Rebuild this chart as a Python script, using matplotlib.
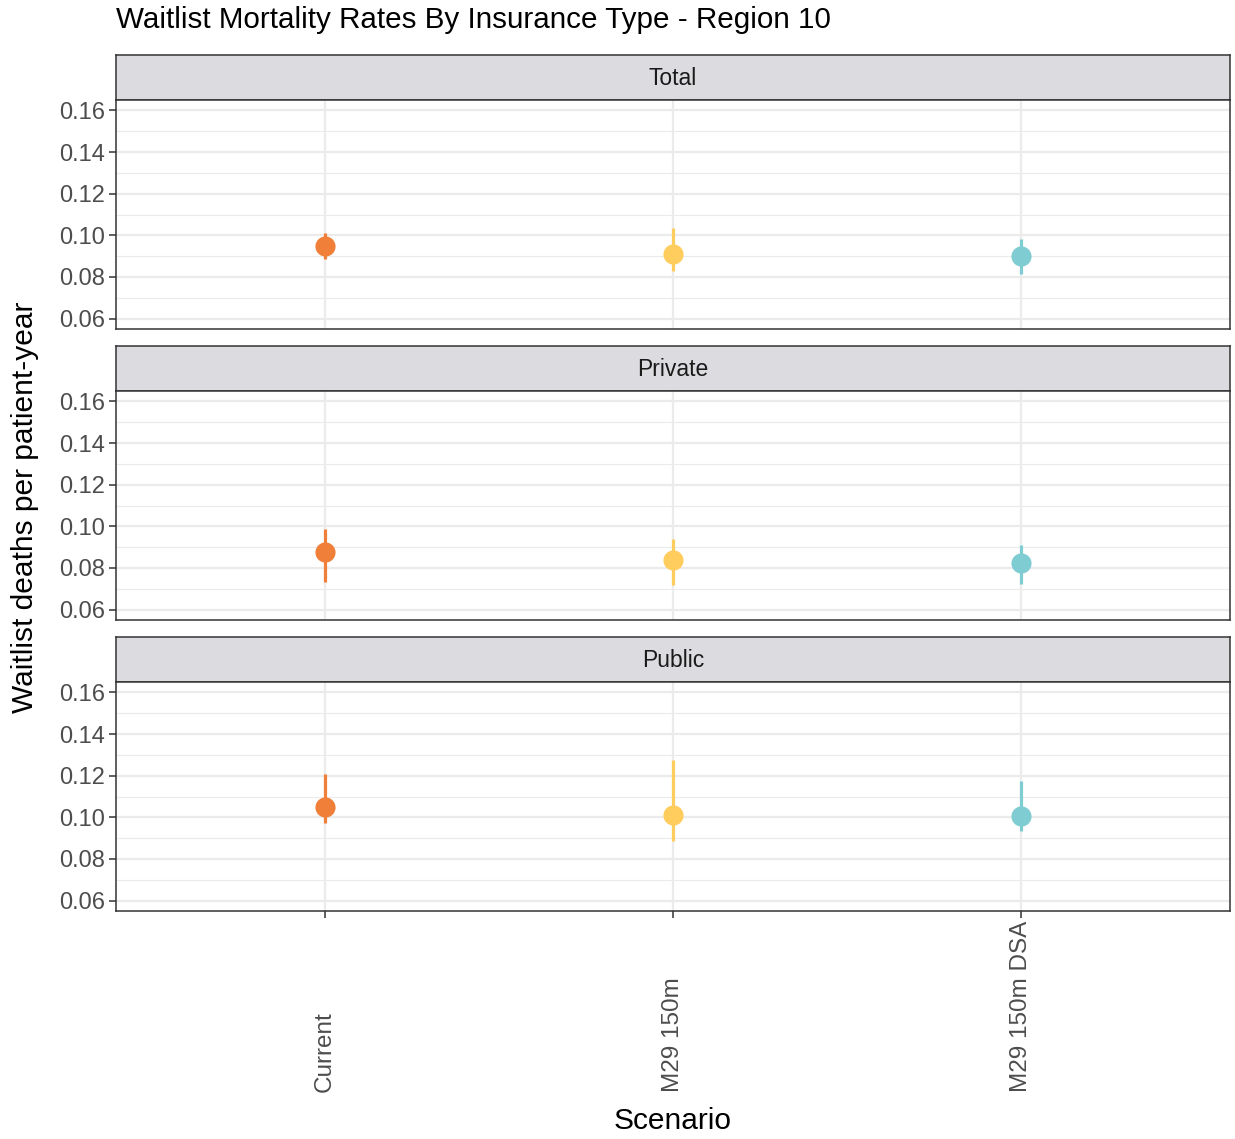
import matplotlib
matplotlib.use("Agg")
import matplotlib.pyplot as plt
import matplotlib.transforms as mtransforms
import numpy as np

plt.rcParams['font.family'] = ['Liberation Sans', 'DejaVu Sans']

# data
scenarios = ["Current", "M29 150m", "M29 150m DSA"]
panels = ["Total", "Private", "Public"]
colors = ["#F07F3A", "#FFCC5E", "#7FCDD3"]

rate = {
    "Total":   [0.0950, 0.0912, 0.0900],
    "Private": [0.0876, 0.0836, 0.0826],
    "Public":  [0.1051, 0.1011, 0.1005],
}
lower = {
    "Total":   [0.0884, 0.0827, 0.0816],
    "Private": [0.0734, 0.0717, 0.0725],
    "Public":  [0.0971, 0.0886, 0.0934],
}
upper = {
    "Total":   [0.1013, 0.1033, 0.0981],
    "Private": [0.0988, 0.0937, 0.0909],
    "Public":  [0.1210, 0.1276, 0.1175],
}
yticks = [0.06, 0.08, 0.10, 0.12, 0.14, 0.16]

W, H = 1235, 1139
fig = plt.figure(figsize=(W / 100, H / 100), dpi=100)


def box(x0, y0, x1, y1):
    # pixel box (top-left origin) -> figure fraction rect
    return [x0 / W, 1 - y1 / H, (x1 - x0) / W, (y1 - y0) / H]


strip_tops = [55, 346, 637]
strip_h = 45
panel_h = 229
x0, x1 = 116, 1230
xs = np.arange(1, len(scenarios) + 1)

for i, name in enumerate(panels):
    st = strip_tops[i]
    sax = fig.add_axes(box(x0, st, x1, st + strip_h))
    sax.set_facecolor("#DCDBDF")
    sax.set_xticks([])
    sax.set_yticks([])
    for s in sax.spines.values():
        s.set_color("#333333")
        s.set_linewidth(1.1)
    sax.text(0.5, 0.47, name, ha="center", va="center", fontsize=16.5,
             color="#1A1A1A", transform=sax.transAxes)

    ax = fig.add_axes(box(x0, st + strip_h, x1, st + strip_h + panel_h))
    ax.set_xlim(0.4, 3.6)
    ax.set_ylim(0.055, 0.165)
    ax.set_yticks(yticks)
    ax.set_yticks(np.arange(0.07, 0.16, 0.02), minor=True)
    ax.set_yticklabels([f"{t:.2f}" for t in yticks], fontsize=17, color="#4D4D4D")
    ax.set_xticks(xs)
    ax.grid(True, which="major", color="#EBEBEB", linewidth=1.6, zorder=0)
    ax.grid(True, which="minor", axis="y", color="#EBEBEB", linewidth=0.8, zorder=0)
    ax.tick_params(axis="y", which="minor", length=0)
    ax.tick_params(axis="y", which="major", length=5, width=1.1, color="#333333", pad=3)
    ax.tick_params(axis="x", labelbottom=False)
    if i == len(panels) - 1:
        ax.tick_params(axis="x", length=5, width=1.1, color="#333333")
        # rotated labels start at a common baseline, as in ggplot with hjust=0
        trans = mtransforms.blended_transform_factory(ax.transData, fig.transFigure)
        for j, lab in enumerate(scenarios):
            ax.text(xs[j], 1 - 1092 / H, lab, rotation=90, ha="center", va="bottom",
                    fontsize=17.5, color="#4D4D4D", transform=trans, clip_on=False)
    else:
        ax.tick_params(axis="x", length=0)
    for s in ax.spines.values():
        s.set_color("#333333")
        s.set_linewidth(1.1)

    for j in range(len(scenarios)):
        ax.vlines(xs[j], lower[name][j], upper[name][j], color=colors[j],
                  linewidth=2.3, zorder=3)
        ax.plot(xs[j], rate[name][j], "o", color=colors[j], markersize=14.5,
                markeredgewidth=0, zorder=4)

fig.text(116 / W, 1 - 20 / H, "Waitlist Mortality Rates By Insurance Type - Region 10",
         fontsize=21.3, ha="left", va="center", color="black")
fig.text(673 / W, 1 - 1121 / H, "Scenario", fontsize=21.5, ha="center", va="center")
fig.text(25 / W, 1 - 507 / H, "Waitlist deaths per patient-year", fontsize=21.5,
         ha="center", va="center", rotation=90)

fig.savefig("out.png", dpi=100)
